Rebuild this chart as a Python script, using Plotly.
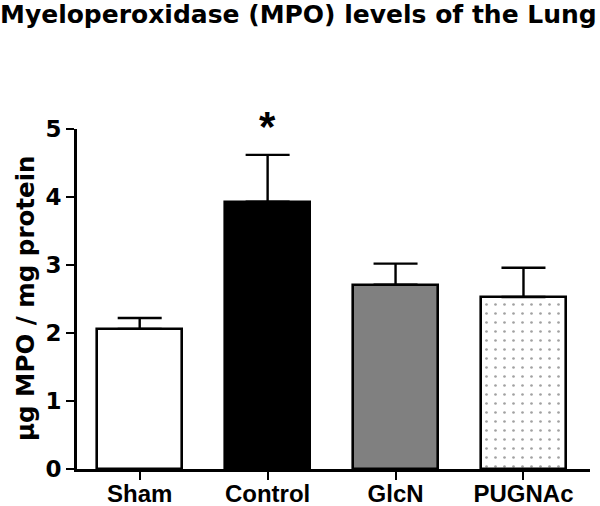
import plotly.graph_objects as go

categories = ["Sham", "Control", "GlcN", "PUGNAc"]
mpo_mean = [2.06, 3.93, 2.71, 2.53]
mpo_sem = [0.16, 0.69, 0.31, 0.43]
fill_colors = ["white", "black", "#808080", "white"]
pattern_shapes = ["", "", "", "."]
significant = ["", "*", "", ""]

ARIAL = "Liberation Sans, Arial, sans-serif"
WIDE = "DejaVu Sans, Verdana, sans-serif"

fig = go.Figure()
fig.add_trace(go.Bar(
    x=categories,
    y=mpo_mean,
    width=0.66,
    marker=dict(
        color=fill_colors,
        line=dict(color="black", width=2.6),
        pattern=dict(shape=pattern_shapes, fgcolor="#444444", bgcolor="white",
                     size=9, solidity=0.07, fillmode="overlay"),
    ),
    error_y=dict(type="data", array=mpo_sem, symmetric=False, arrayminus=[0]*4,
                 color="black", thickness=2.4, width=22),
    showlegend=False,
    hoverinfo="skip",
))

for c, m, s, sig in zip(categories, mpo_mean, mpo_sem, significant):
    if sig:
        fig.add_annotation(x=c, y=m + s, text="<b>" + sig + "</b>", showarrow=False,
                           yanchor="middle", yshift=28,
                           font=dict(family=ARIAL, size=42, color="black"))

fig.add_annotation(xref="paper", yref="paper", x=0, y=0.5, xanchor="center",
                   yanchor="middle", xshift=-52, textangle=-90, showarrow=False,
                   text="<b>µg MPO / mg protein</b>",
                   font=dict(family=WIDE, size=24.5, color="black"))

fig.update_layout(
    width=600, height=506,
    margin=dict(l=77, r=10, t=129, b=37, autoexpand=False),
    paper_bgcolor="white", plot_bgcolor="white",
    title=dict(text="<b>Myeloperoxidase (MPO) levels of the Lung</b>",
               x=0, xanchor="left", xref="container", y=1, yanchor="top",
               yref="container",
               font=dict(family=WIDE, size=25, color="black"),
               pad=dict(l=0, t=5)),
    bargap=0,
)

fig.update_xaxes(
    range=[-0.49, 3.52], showline=True, linecolor="black", linewidth=2.6,
    ticks="outside", ticklen=8, tickwidth=2.4, tickcolor="black",
    tickfont=dict(family=ARIAL, size=24, color="black"),
    tickprefix="<b>", ticksuffix="</b>", showgrid=False, zeroline=False,
    automargin=False, ticklabelstandoff=-7,
)
fig.update_yaxes(
    range=[0, 5], dtick=1, showline=True, linecolor="black", linewidth=2.6,
    ticks="outside", ticklen=8, tickwidth=2.4, tickcolor="black",
    tickfont=dict(family=WIDE, size=23, color="black"),
    tickprefix="<b>", ticksuffix="</b>", showgrid=False, zeroline=False,
    automargin=False,
)

fig.write_html(
    "out.html",
    config={"displayModeBar": False},
    post_script="document.body.style.margin='0';document.body.style.overflow='hidden';",
)
